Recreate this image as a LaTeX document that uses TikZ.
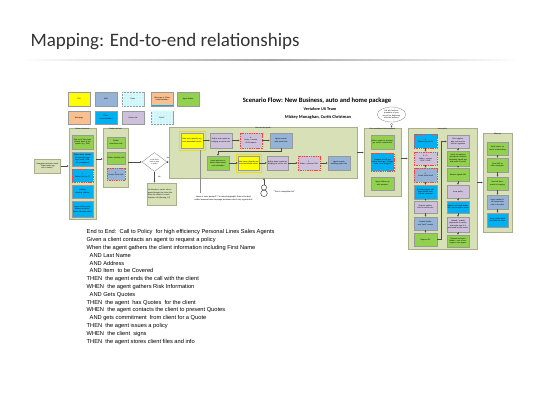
\documentclass[tikz,border=0pt]{standalone}
\usepackage{fontspec}
\setmainfont{Carlito}
\newfontfamily\bodyfont{Liberation Sans}
\usetikzlibrary{arrows.meta,shapes.geometric,fit,patterns}

\definecolor{lanefill}{HTML}{D8E0B8}
\definecolor{laneline}{HTML}{A9AD8C}
\definecolor{actgreen}{HTML}{92D050}
\definecolor{comcyan}{HTML}{00B0F0}
\definecolor{amsblue}{HTML}{95B3D7}
\definecolor{carlav}{HTML}{CCC0DA}
\definecolor{suxyellow}{HTML}{FFFF00}
\definecolor{webpeach}{HTML}{FABF8F}
\definecolor{paperblue}{HTML}{DAEEF3}
\definecolor{titlegray}{HTML}{333333}

\tikzset{
  tiny/.style={font=\fontsize{2}{2.4}\selectfont},
  lane/.style={draw=laneline, fill=lanefill, line width=0.4pt, inner sep=0pt},
  lanehead/.style={tiny, anchor=north, inner sep=0.5pt},
  box/.style={draw=black!40, line width=0.3pt, inner sep=0.3pt, tiny, align=center},
  gbox/.style={box, fill=actgreen},
  cbox/.style={box, fill=comcyan},
  sbox/.style={box, fill=amsblue},
  lbox/.style={box, fill=carlav},
  ybox/.style={box, fill=suxyellow},
  pbox/.style={box, fill=webpeach},
  riskbox/.style={draw=red!75, dashed, dash pattern=on 1.4pt off 0.9pt, line width=0.6pt},
  flow/.style={-{Latex[length=1.8pt,width=1.8pt]}, draw=black!70, line width=0.35pt},
  notebox/.style={draw=laneline, fill=lanefill, tiny, align=left, inner sep=1pt},
  hilite/.style={draw=yellow!90!black, line width=0.3pt, inner sep=1.5pt},
}

\begin{document}
\begin{tikzpicture}[x=1pt, y=-1pt]

% Fix the page to the slide size
\useasboundingbox (0,0) rectangle (560,420);

% Slide title and rule
\node[anchor=west, text=titlegray, font=\fontsize{19}{22}\selectfont] (title) at (27,42) {Mapping: End-to-end relationships};
\shade[left color=white, right color=white, middle color=black!35] (20,59.6) rectangle (520,60.4);

% Legend row 1
\node[ybox, minimum width=22pt, minimum height=14pt] (kA) at (79,99) {SUX};
\node[sbox, minimum width=22pt, minimum height=14pt] (kB) at (106,99) {AMS};
\node[box, fill=paperblue, minimum width=22pt, minimum height=14pt] (kC) at (133,99) {};
\fill[pattern=grid, pattern color=cyan!20] (kC.south west) rectangle (kC.north east);
\node[tiny] at (kC) {Paper};
\node[box, minimum width=22pt, minimum height=14pt,
      path picture={\fill[comcyan] (path picture bounding box.south west) rectangle ([yshift=-6pt]path picture bounding box.east);
                    \fill[webpeach] ([yshift=-6pt]path picture bounding box.west) rectangle (path picture bounding box.north east);}] (kD) at (162,99) {Web page or Client\\communication};
\node[gbox, minimum width=22pt, minimum height=14pt] (kE) at (188,99) {Agent Action};

% Legend row 2
\node[pbox, minimum width=22pt, minimum height=13pt] (kF) at (79,117.5) {Web page};
\node[cbox, minimum width=22pt, minimum height=13pt] (kG) at (106,117.5) {Client\\communication};
\node[lbox, minimum width=22pt, minimum height=13pt] (kH) at (133,117.5) {Carrier site};
\node[box, fill=paperblue, minimum width=22pt, minimum height=13pt] (kI) at (162,117.5) {};
\fill[pattern=grid, pattern color=cyan!20] (kI.south west) rectangle (kI.north east);
\node[tiny] at (kI) {Excel?};

% Diagram heading
\node[font=\bfseries\fontsize{6.6}{7}\selectfont] (scen) at (317,101) {Scenario Flow: New Business, auto and home package};
\node[font=\bfseries\fontsize{4.2}{5}\selectfont] (team) at (320,109.5) {Vertafore UX Team};
\node[font=\bfseries\fontsize{4.4}{5}\selectfont] (names) at (318,117.5) {Mickey Monaghan, Curtis Christman};

% Start of the call
\node[notebox, align=center, minimum width=26pt, minimum height=14pt, text width=24pt] (st) at (47.5,166) {Determine business needs\\``What made you call us today?''};

% Lane: gather client info
\node[lane, minimum width=27pt, minimum height=91pt] (L1) at (82.5,173.5) {};
\node[lanehead] at (L1.north) {Gather client info};
\node[gbox, minimum width=21pt, minimum height=14pt, text width=20pt] (a1) at (82.5,142) {Find out if they have already been in the system (e.g. SSN)};
\node[cbox, minimum width=21pt, minimum height=14pt, text width=20pt] (a2) at (82.5,159) {Gather basic contact info (phone numbers, email, DOB, DL, occupation)};
\node[cbox, riskbox, minimum width=21pt, minimum height=13pt, text width=20pt] (a3) at (82.5,175.5) {1.\\Collect info on CS};
\node[cbox, minimum width=21pt, minimum height=13pt, text width=20pt] (a4) at (82.5,191.5) {Validate dwelling address};
\node[cbox, minimum width=21pt, minimum height=16pt, text width=20pt] (a5) at (82.5,209) {Agent collects prior history, accidents, losses info from client};

% Lane: gather risk info
\node[lane, minimum width=25pt, minimum height=59pt] (L2) at (115.5,157.5) {};
\node[lanehead] at (L2.north) {Gather risk info};
\node[gbox, minimum width=18pt, minimum height=11pt, text width=17pt] (b1) at (116,142.5) {Gather auto/driver info};
\node[gbox, minimum width=18pt, minimum height=12pt, text width=17pt] (b2) at (116,158) {Gather dwelling info};
\node[sbox, riskbox, minimum width=18pt, minimum height=12pt, text width=17pt] (b3) at (116,174) {2.\\Create client shell};

% Decision
\node[diamond, aspect=1.4, draw=black!50, fill=white, line width=0.3pt, inner sep=0pt, minimum width=25pt, minimum height=19pt, font=\fontsize{1.7}{2}\selectfont, text width=11pt, align=center] (dm) at (154.5,162) {Is the client ready to hear a quote?};
\node[notebox, minimum width=29pt, minimum height=22pt, text width=27pt] (nt) at (161.5,194) {Go directly to carrier site to quote through the client site. Store the client in current Vertafore UX (Quoting 1.0)};

% Lane: get rates for quote
\node[lane, minimum width=188pt, minimum height=51pt] (L3) at (263,152.5) {};
\node[lanehead] at (L3.north) {Get rates for quote};
\node[ybox, minimum width=22pt, minimum height=15pt, text width=21pt] (c1) at (192,140.5) {Rate auto, identify any cross-household carrier};
\node[lbox, minimum width=22pt, minimum height=15pt, text width=21pt] (c2) at (221,140.5) {Refine auto quote by bridging to carrier site};
\node[lbox, riskbox, minimum width=22pt, minimum height=15pt, text width=21pt] (c3) at (251,140.5) {4.\\Order + receive CLUE reports};
\node[sbox, minimum width=22pt, minimum height=15pt, text width=21pt] (c4) at (281,140.5) {Agent records auto quote info};
\node[gbox, minimum width=22pt, minimum height=14pt, text width=21pt] (d1) at (218,163) {Agent performs a home replacement cost estimation};
\node[ybox, minimum width=21pt, minimum height=14pt, text width=20pt] (d2) at (248.5,163) {Rate home, identify any cross-household carrier};
\node[lbox, minimum width=21pt, minimum height=14pt, text width=20pt] (d3) at (277.5,163) {Refine home quote by bridging to carrier site};
\node[lbox, riskbox, minimum width=22pt, minimum height=14pt, text width=21pt] (d4) at (309,163) {5.\\Order + receive CLUE};
\node[sbox, minimum width=22pt, minimum height=14pt, text width=21pt] (d5) at (339,163) {Agent records dwelling quote info};
\node[hilite, fit=(c1)] (y1) {};
\node[hilite, fit=(d2)] (y2) {};

% Remarks under the quote lane
\coordinate (pin1) at (200,150);
\node[tiny, font=\fontsize{2.2}{2.7}\selectfont, align=center] (an1) at (223.5,198.5) {Home is more quoted??? in interchangeable. Auto is the deal\\maker because home coverage premiums don't vary a great deal};
\draw[black!45, line width=0.3pt] (pin1) -- (pin1 |- an1.north);
\draw[black!80, line width=0.45pt] (264,187.5) circle (2.6pt);
\draw[black!80, line width=0.45pt] (264,193.3) circle (3.3pt);
\coordinate (pp) at (264,184.9);
\node[anchor=west, font=\fontsize{2.2}{2.7}\selectfont] (an2) at (270,192) {``This is a template risk''};

% Lane: get commitment from prospect
\node[lane, minimum width=37pt, minimum height=68pt] (L4) at (382.5,162) {};
\node[lanehead] at (L4.north) {Get commitment from prospect};
\node[gbox, minimum width=23pt, minimum height=14pt, text width=22pt] (e1) at (382.5,142) {Deliver quote to prospect, get verbal commitment};
\node[cbox, riskbox, minimum width=23pt, minimum height=18pt, text width=22pt] (e2) at (382.5,162) {Prospect to sell any further coverage / change limits, send to agent};
\node[gbox, minimum width=23pt, minimum height=13pt, text width=22pt] (e3) at (382.5,183.5) {Agent follows up with prospect};
\node[ellipse, draw=black!50, fill=white, line width=0.3pt, minimum width=27pt, minimum height=15pt, inner sep=0pt, tiny, text width=20pt, align=center] (bub) at (391.5,114.5) {Ask any business questions of your day at the beginning with the business};
\node[circle, draw=black!50, fill=white, line width=0.3pt, minimum size=2.5pt, inner sep=0pt] (bub2) at (391.5,124.5) {};

% Lane: issue policy
\node[lane, minimum width=69pt, minimum height=121pt] (L5) at (442.5,188.5) {};
\node[lanehead] at (L5.north) {Issue policy};
\node[cbox, riskbox, minimum width=23pt, minimum height=14pt, text width=22pt] (f1) at (425.5,141) {1.\\Collect info on CS};
\node[lbox, riskbox, minimum width=23pt, minimum height=13pt, text width=22pt] (f2) at (425.5,158.5) {6 + 5.\\Order + receive CLUE / MVR};
\node[sbox, riskbox, minimum width=23pt, minimum height=14pt, text width=22pt] (f3) at (425.5,175) {2.\\Create client shell};
\node[cbox, minimum width=23pt, minimum height=14pt, text width=22pt] (f4) at (425.5,192) {ID Admin/Agent collects client's bank info for payment};
\node[lbox, minimum width=23pt, minimum height=12pt, text width=22pt] (f5) at (425.5,207) {Prepare application on carrier site};
\node[sbox, minimum width=23pt, minimum height=13pt, text width=22pt] (f6) at (425.5,223.5) {Prepare binder and ``paid'' receipt};
\node[gbox, minimum width=23pt, minimum height=13pt, text width=22pt] (f7) at (425.5,239.5) {Prepare ID's};
\node[lbox, minimum width=22pt, minimum height=13pt, text width=21pt] (g1) at (458,141.5) {Print application and send to UW for signature};
\node[gbox, minimum width=22pt, minimum height=15pt, text width=21pt] (g2) at (458,158.5) {Verify all required documents received (including signed app and proof of prior)};
\node[gbox, minimum width=22pt, minimum height=13pt, text width=21pt] (g3) at (458,174.5) {Receive signed UW};
\node[lbox, minimum width=22pt, minimum height=13pt, text width=21pt] (g4) at (458,191.5) {Issue policy};
\node[cbox, minimum width=22pt, minimum height=12pt, text width=21pt] (g5) at (458,207) {Prepare and send binder, ID's, and receipt to client};
\node[lbox, minimum width=22pt, minimum height=15pt, text width=21pt] (g6) at (458,224.5) {Upload / submit paperwork to carrier and make sure it is processed by the carrier};
\node[gbox, minimum width=22pt, minimum height=12pt, text width=21pt] (g7) at (458,241) {Prepare and send binder / cert of coverage to loss payees};

% Lane: wrap up
\node[lane, minimum width=29pt, minimum height=99pt] (L6) at (497.5,182.5) {};
\node[lanehead] at (L6.north) {Wrap up};
\node[gbox, minimum width=21pt, minimum height=13pt, text width=20pt] (h1) at (497.5,148.5) {Verify policy via carrier underwriting};
\node[gbox, minimum width=21pt, minimum height=14pt, text width=20pt] (h2) at (497.5,165) {Send UW to client computer};
\node[gbox, minimum width=21pt, minimum height=13pt, text width=20pt] (h3) at (497.5,183.5) {Send all documents to imaging};
\node[sbox, minimum width=21pt, minimum height=14pt, text width=20pt] (h4) at (497.5,202) {Agent verifies final commission rate in the data};
\node[cbox, minimum width=21pt, minimum height=14pt, text width=20pt] (h5) at (497.5,220) {Agent sends thank you letter to client};

% Connectors between lanes
\draw[flow] (st.east) -- (st.east -| L1.west);
\draw[flow] (a2.east -| L1.east) -- (a2.east -| L2.west);
\draw[flow] (L2.east |- dm) -- (dm.west);
\draw[flow] (dm.east) -- node[above, tiny, pos=0.45] {Yes} (dm.east -| L3.west);
\draw[flow] (dm.south) -- node[right, tiny] {No} (nt.north -| dm.south);
\draw[flow] (L3.east) -- (L3.east -| L4.west);
\draw[flow] (f2.west -| L4.east) -- (f2.west -| L5.west);
\draw[flow] (L6.west -| L5.east) -- (L6.west);
\draw[flow] (bub2) -- (bub2 |- L4.north);
\draw[flow] (pp) -- (pp |- L3.south);

% Connectors inside the quote lane
\foreach \from/\to in {c1/c2, c2/c3, c3/c4, d1/d2, d2/d3, d3/d4, d4/d5}
  \draw[flow] (\from) -- (\to);
\draw[flow] (c4.south) -- ++(0,3.5) -| (d1.north);

% Connectors inside the policy lane
\foreach \from/\to in {f1/f2, f2/f3, f3/f4, f4/f5, f5/f6, f6/f7, g1/g2, g2/g3, g3/g4, g4/g5, g5/g6, g6/g7}
  \draw[flow] (\from) -- (\to);
\draw[flow] (f7.east) -- ++(4.5,0) |- (g1.west);

% Connectors inside the wrap up lane
\foreach \from/\to in {h1/h2, h2/h3, h3/h4, h4/h5}
  \draw[flow] (\from) -- (\to);

% Scenario text
\node[anchor=north west, inner sep=0pt, align=left, font=\bodyfont\fontsize{5.7}{7.8}\selectfont] (story) at (86.5,229.5) {%
End to End:\ \ Call to Policy\ \ for high efficiency Personal Lines Sales Agents\\
Given a client contacts an agent to request a policy\\
When the agent gathers the client information including First Name\\
\hspace*{3pt}AND Last Name\\
\hspace*{3pt}AND Address\\
\hspace*{3pt}AND Item\ \ to be Covered\\
THEN\ \ the agent ends the call with the client\\
WHEN\ \ the agent gathers Risk Information\\
\hspace*{3pt}AND Gets Quotes\\
THEN\ \ the agent\ \ has Quotes\ \ for the client\\
WHEN\ \ the agent contacts the client to present Quotes\\
\hspace*{3pt}AND gets commitment\ \ from client for a Quote\\
THEN\ \ the agent issues a policy\\
WHEN\ \ the client\ \ signs\\
THEN\ \ the agent stores client files and info};

\end{tikzpicture}
\end{document}
